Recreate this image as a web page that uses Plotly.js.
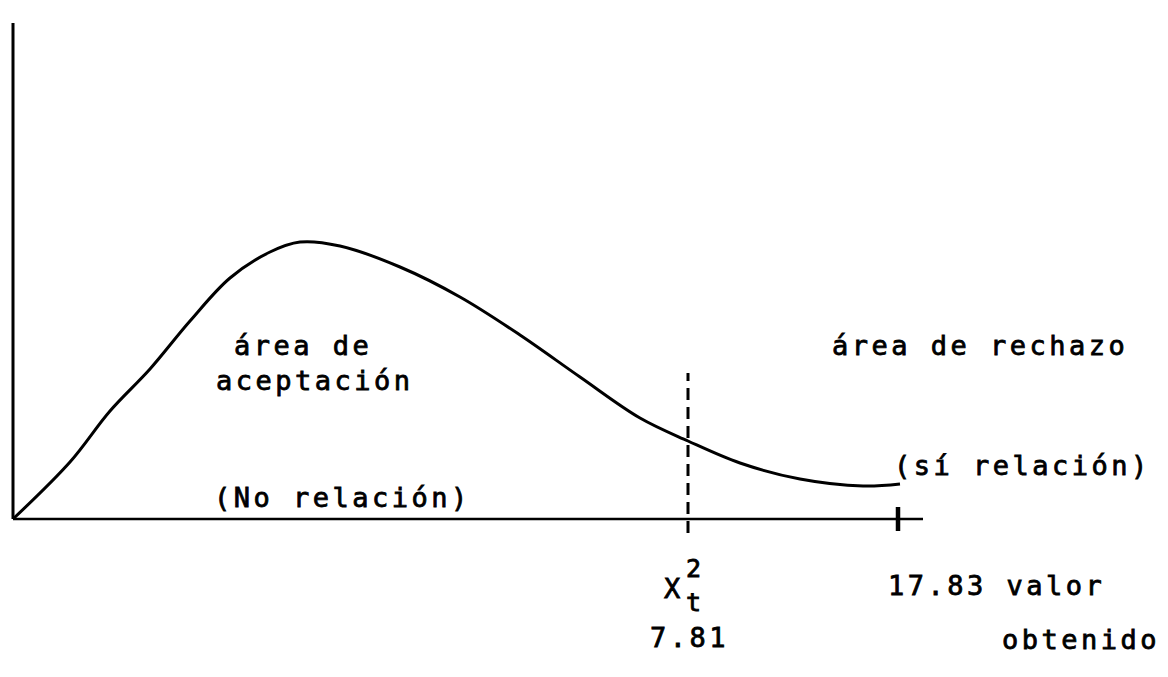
<!DOCTYPE html>
<html>
<head>
<meta charset="utf-8">
<script src="https://cdn.plot.ly/plotly-3.0.1.min.js"></script>
<style>
  html, body { margin: 0; padding: 0; background: #fff; }
  #chart { width: 1168px; height: 677px; }
  .annotation-text { letter-spacing: 3.5px; stroke: #000; stroke-width: 0.8px; }
</style>
</head>
<body>
<div id="chart"></div>
<script>
// Hand-drawn chi-square density curve (arbitrary horizontal/vertical units)
const curveX = [0, 57, 97, 137, 177, 217, 257, 287, 327, 387, 447, 507, 567, 627, 675, 727, 787, 850, 887];
const curveY = [0, 57, 108, 150, 198, 241, 267, 277, 273, 252, 222, 184, 142, 101, 78, 56, 40, 33, 35];

// Axis extents
const axisXEnd = 910;
const axisYTop = 496;

// Critical value (X²_t = 7.81) and observed value (17.83)
const criticalX = [675];
const criticalLabel = ["7.81"];
const observedX = [885];
const observedLabel = ["17.83 valor", "obtenido"];
const dashTop = 146, dashBottom = -14;
const tickHalf = 12;

const black = '#000';
const traces = [
  {x: [0, 0], y: [0, axisYTop], mode: 'lines', line: {color: black, width: 3}, hoverinfo: 'skip'},
  {x: [0, axisXEnd], y: [0, 0], mode: 'lines', line: {color: black, width: 2.5}, hoverinfo: 'skip'},
  {x: curveX, y: curveY, mode: 'lines', line: {color: black, width: 3, shape: 'spline', smoothing: 1}, hoverinfo: 'skip'},
  {x: [criticalX[0], criticalX[0]], y: [dashBottom, dashTop], mode: 'lines', line: {color: black, width: 3, dash: '12px,7px'}, hoverinfo: 'skip'},
  {x: [observedX[0], observedX[0]], y: [-tickHalf, tickHalf], mode: 'lines', line: {color: black, width: 4.5}, hoverinfo: 'skip'}
];

const F = {family: '"DejaVu Sans Mono", "Liberation Mono", monospace', size: 27, color: black};
function ann(text, px, py, size) {
  return {text: text, x: px - 13, y: 519 - py, xref: 'x', yref: 'y', showarrow: false,
          xanchor: 'left', yanchor: 'middle', font: Object.assign({}, F, size ? {size: size} : {})};
}

const annotations = [
  ann('área de', 232, 345),
  ann('aceptación', 214, 380),
  ann('área de rechazo', 830, 345),
  ann('(sí relación)', 892, 465),
  ann('(No relación)', 212, 497),
  ann('X', 662, 588),
  ann('2', 684, 568, 25),
  ann('t', 684, 602, 25),
  ann(criticalLabel[0], 648, 637),
  ann(observedLabel[0], 886, 585),
  ann(observedLabel[1], 1000, 639)
];

const layout = {
  width: 1168, height: 677,
  margin: {l: 0, r: 0, t: 0, b: 0},
  paper_bgcolor: '#fff', plot_bgcolor: '#fff',
  showlegend: false,
  xaxis: {range: [-13, 1155], visible: false, fixedrange: true},
  yaxis: {range: [-158, 519], visible: false, fixedrange: true},
  annotations: annotations
};

Plotly.newPlot('chart', traces, layout, {staticPlot: true});
</script>
</body>
</html>
